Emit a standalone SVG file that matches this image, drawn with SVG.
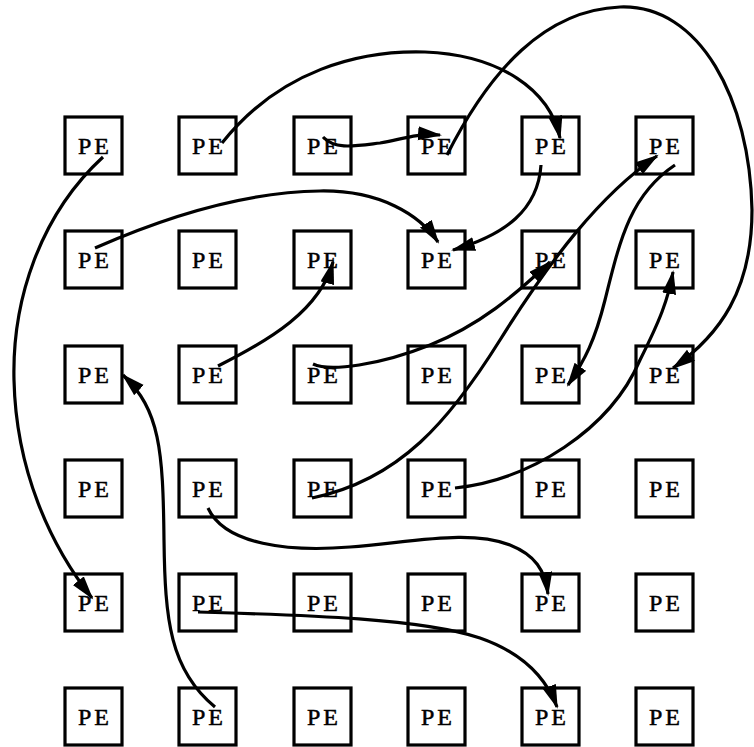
<svg xmlns="http://www.w3.org/2000/svg" width="754" height="747" viewBox="0 0 754 747">
<style>
.b rect{fill:#fff;stroke:#000;stroke-width:3.2}
.b text{font-family:"Liberation Serif","Times New Roman",serif;font-size:24px;letter-spacing:3px;text-anchor:middle;fill:#000;stroke:#000;stroke-width:0.5}
.c path{fill:none;stroke:#000;stroke-width:3.2;marker-end:url(#ah)}
</style>
<defs>
<marker id="ah" markerUnits="userSpaceOnUse" markerWidth="26" markerHeight="16" refX="22" refY="7" orient="auto">
<path d="M0,0 L24,7 L0,14 Z" fill="#000"/>
</marker>
</defs>
<rect width="754" height="747" fill="#fff"/>
<g class="b">
<g id="pe00"><rect x="65" y="117" width="57" height="57"/><text x="95" y="154">PE</text></g>
<g id="pe10"><rect x="179" y="117" width="57" height="57"/><text x="209" y="154">PE</text></g>
<g id="pe20"><rect x="294" y="117" width="57" height="57"/><text x="324" y="154">PE</text></g>
<g id="pe30"><rect x="408" y="117" width="57" height="57"/><text x="438" y="154">PE</text></g>
<g id="pe40"><rect x="522" y="117" width="57" height="57"/><text x="552" y="154">PE</text></g>
<g id="pe50"><rect x="636" y="117" width="57" height="57"/><text x="666" y="154">PE</text></g>
<g id="pe01"><rect x="65" y="231" width="57" height="57"/><text x="95" y="268">PE</text></g>
<g id="pe11"><rect x="179" y="231" width="57" height="57"/><text x="209" y="268">PE</text></g>
<g id="pe21"><rect x="294" y="231" width="57" height="57"/><text x="324" y="268">PE</text></g>
<g id="pe31"><rect x="408" y="231" width="57" height="57"/><text x="438" y="268">PE</text></g>
<g id="pe41"><rect x="522" y="231" width="57" height="57"/><text x="552" y="268">PE</text></g>
<g id="pe51"><rect x="636" y="231" width="57" height="57"/><text x="666" y="268">PE</text></g>
<g id="pe02"><rect x="65" y="346" width="57" height="57"/><text x="95" y="383">PE</text></g>
<g id="pe12"><rect x="179" y="346" width="57" height="57"/><text x="209" y="383">PE</text></g>
<g id="pe22"><rect x="294" y="346" width="57" height="57"/><text x="324" y="383">PE</text></g>
<g id="pe32"><rect x="408" y="346" width="57" height="57"/><text x="438" y="383">PE</text></g>
<g id="pe42"><rect x="522" y="346" width="57" height="57"/><text x="552" y="383">PE</text></g>
<g id="pe52"><rect x="636" y="346" width="57" height="57"/><text x="666" y="383">PE</text></g>
<g id="pe03"><rect x="65" y="460" width="57" height="57"/><text x="95" y="497">PE</text></g>
<g id="pe13"><rect x="179" y="460" width="57" height="57"/><text x="209" y="497">PE</text></g>
<g id="pe23"><rect x="294" y="460" width="57" height="57"/><text x="324" y="497">PE</text></g>
<g id="pe33"><rect x="408" y="460" width="57" height="57"/><text x="438" y="497">PE</text></g>
<g id="pe43"><rect x="522" y="460" width="57" height="57"/><text x="552" y="497">PE</text></g>
<g id="pe53"><rect x="636" y="460" width="57" height="57"/><text x="666" y="497">PE</text></g>
<g id="pe04"><rect x="65" y="574" width="57" height="57"/><text x="95" y="611">PE</text></g>
<g id="pe14"><rect x="179" y="574" width="57" height="57"/><text x="209" y="611">PE</text></g>
<g id="pe24"><rect x="294" y="574" width="57" height="57"/><text x="324" y="611">PE</text></g>
<g id="pe34"><rect x="408" y="574" width="57" height="57"/><text x="438" y="611">PE</text></g>
<g id="pe44"><rect x="522" y="574" width="57" height="57"/><text x="552" y="611">PE</text></g>
<g id="pe54"><rect x="636" y="574" width="57" height="57"/><text x="666" y="611">PE</text></g>
<g id="pe05"><rect x="65" y="688" width="57" height="57"/><text x="95" y="725">PE</text></g>
<g id="pe15"><rect x="179" y="688" width="57" height="57"/><text x="209" y="725">PE</text></g>
<g id="pe25"><rect x="294" y="688" width="57" height="57"/><text x="324" y="725">PE</text></g>
<g id="pe35"><rect x="408" y="688" width="57" height="57"/><text x="438" y="725">PE</text></g>
<g id="pe45"><rect x="522" y="688" width="57" height="57"/><text x="552" y="725">PE</text></g>
<g id="pe55"><rect x="636" y="688" width="57" height="57"/><text x="666" y="725">PE</text></g>
</g>
<g class="c" id="connectors">
<path d="M103,157 C40,215 12,300 14,380 C16,470 50,545 92,598"/>
<path d="M222,143 C280,70 360,50 425,52 C500,55 550,90 560,138"/>
<path d="M323,137 C335,150 355,146 380,143 C400,140 415,133 440,135"/>
<path d="M447,155 C490,70 545,10 620,7 C700,4 750,100 752,210 C752,290 720,335 673,368"/>
<path d="M541,165 C538,210 505,235 453,250"/>
<path d="M95,248 C170,215 250,192 320,191 C380,190 420,215 438,242"/>
<path d="M218,366 C270,340 320,310 333,262"/>
<path d="M313,364 C330,372 380,365 430,345 C480,325 515,295 550,262"/>
<path d="M312,498 C400,480 450,420 500,340 C550,260 600,195 657,156"/>
<path d="M675,165 C630,195 620,240 605,300 C595,340 585,360 568,385"/>
<path d="M455,488 C530,480 610,430 640,360 C660,320 668,300 673,272"/>
<path d="M208,508 C225,545 290,552 350,547 C420,541 470,530 510,545 C535,555 545,570 548,594"/>
<path d="M198,612 C300,615 420,618 480,638 C520,652 545,675 557,707"/>
<path d="M215,707 C170,670 165,620 164,540 C163,450 160,410 123,375"/>
</g>
</svg>
